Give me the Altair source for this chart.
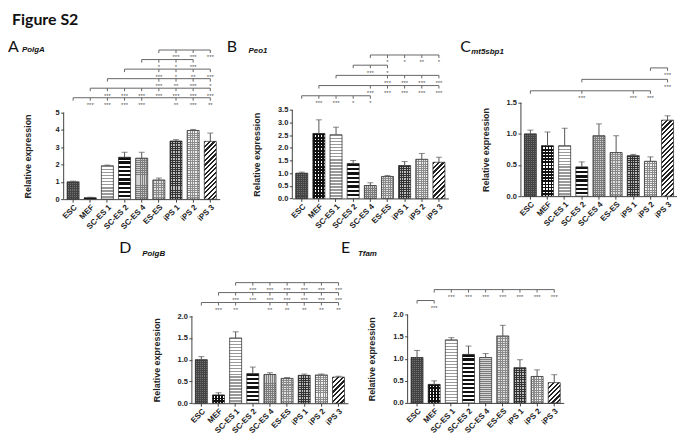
import math
import altair as alt
import pandas as pd

cats = ["ESC", "MEF", "SC-ES 1", "SC-ES 2", "SC-ES 4", "ES-ES", "iPS 1", "iPS 2", "iPS 3"]

polga_val = [1.00, 0.08, 1.93, 2.42, 2.37, 1.11, 3.36, 3.97, 3.34]
polga_err = [0.04, 0.03, 0.04, 0.29, 0.34, 0.11, 0.08, 0.06, 0.48]
peo1_val = [1.00, 2.57, 2.52, 1.38, 0.51, 0.87, 1.30, 1.55, 1.43]
peo1_err = [0.04, 0.54, 0.30, 0.12, 0.11, 0.04, 0.16, 0.23, 0.20]
mt5_val = [1.00, 0.81, 0.81, 0.47, 0.97, 0.70, 0.65, 0.56, 1.22]
mt5_err = [0.06, 0.22, 0.28, 0.08, 0.19, 0.27, 0.02, 0.07, 0.07]
polgb_val = [1.00, 0.19, 1.50, 0.68, 0.66, 0.57, 0.64, 0.65, 0.60]
polgb_err = [0.07, 0.05, 0.14, 0.15, 0.04, 0.02, 0.03, 0.02, 0.02]
tfam_val = [1.03, 0.42, 1.43, 1.10, 1.03, 1.52, 0.80, 0.60, 0.46]
tfam_err = [0.16, 0.08, 0.05, 0.19, 0.09, 0.24, 0.18, 0.15, 0.18]

# significance brackets: (level from bottom, start, end, [(target, stars), ...])
polga_br = [
    (6, "ES-ES", "iPS 3", [("iPS 1", "***"), ("iPS 2", "***"), ("iPS 3", "***")]),
    (5, "SC-ES 4", "iPS 2", [("ES-ES", "*"), ("iPS 1", "*"), ("iPS 2", "***")]),
    (4, "SC-ES 2", "iPS 3", [("ES-ES", "***"), ("iPS 1", "*"), ("iPS 2", "**"), ("iPS 3", "***")]),
    (3, "SC-ES 1", "iPS 3", [("ES-ES", "***"), ("iPS 1", "**"), ("iPS 2", "***"), ("iPS 3", "*")]),
    (2, "MEF", "iPS 3", [("SC-ES 1", "***"), ("SC-ES 2", "***"), ("SC-ES 4", "***"), ("ES-ES", "***"),
                         ("iPS 1", "***"), ("iPS 2", "***"), ("iPS 3", "***")]),
    (1, "ESC", "iPS 3", [("MEF", "***"), ("SC-ES 1", "***"), ("SC-ES 2", "***"), ("SC-ES 4", "***"),
                         ("iPS 1", "**"), ("iPS 2", "***"), ("iPS 3", "**")]),
]
peo1_br = [
    (5, "SC-ES 4", "iPS 3", [("ES-ES", "*"), ("iPS 1", "*"), ("iPS 2", "**"), ("iPS 3", "*")]),
    (4, "SC-ES 2", "ES-ES", [("SC-ES 4", "***"), ("ES-ES", "*")]),
    (3, "SC-ES 1", "iPS 3", [("ES-ES", "***"), ("iPS 1", "***"), ("iPS 2", "***"), ("iPS 3", "***")]),
    (2, "MEF", "iPS 3", [("SC-ES 4", "***"), ("ES-ES", "***"), ("iPS 1", "***"), ("iPS 2", "***"), ("iPS 3", "***")]),
    (1, "ESC", "SC-ES 4", [("MEF", "***"), ("SC-ES 1", "***"), ("SC-ES 2", "*"), ("SC-ES 4", "*")]),
]
mt5_br = [
    (3, "iPS 2", "iPS 3", [("iPS 3", "***")]),
    (2, "SC-ES 2", "iPS 3", [("iPS 3", "***")]),
    (1, "ESC", "iPS 2", [("SC-ES 2", "***"), ("iPS 1", "***"), ("iPS 2", "***")]),
]
polgb_br = [
    (3, "SC-ES 1", "iPS 3", [("SC-ES 2", "***"), ("SC-ES 4", "***"), ("ES-ES", "***"), ("iPS 1", "***"),
                             ("iPS 2", "***"), ("iPS 3", "***")]),
    (2, "MEF", "iPS 3", [("SC-ES 1", "***"), ("SC-ES 2", "***"), ("SC-ES 4", "***"), ("ES-ES", "***"),
                         ("iPS 1", "***"), ("iPS 2", "***"), ("iPS 3", "***")]),
    (1, "ESC", "iPS 3", [("MEF", "***"), ("SC-ES 1", "**"), ("SC-ES 4", "**"), ("ES-ES", "**"),
                         ("iPS 1", "**"), ("iPS 2", "**"), ("iPS 3", "**")]),
]
tfam_br = [
    (2, "MEF", "iPS 3", [("SC-ES 1", "***"), ("SC-ES 2", "***"), ("SC-ES 4", "***"), ("ES-ES", "***"),
                         ("iPS 1", "***"), ("iPS 2", "***"), ("iPS 3", "***")]),
    (1, "ESC", "MEF", [("MEF", "***")]),
]

# ---------------- styling ----------------
W = 157
PAD_IN, PAD_OUT = 0.3, 0.2
STEP = W / (len(cats) - PAD_IN + 2 * PAD_OUT)
BAND = STEP * (1 - PAD_IN)
AX = "Liberation Sans"

# fill pattern per group: kind, line colour, base colour, line fraction, period(px)
PAT = {
    "ESC": ("grid", "#444444", "#707070", 0.5, 2.0),
    "MEF": ("grid", "#111111", "#ffffff", 0.55, 3.2),
    "SC-ES 1": ("h", "#9a9a9a", "#ffffff", 0.5, 3.0),
    "SC-ES 2": ("h", "#111111", "#ffffff", 0.55, 4.2),
    "SC-ES 4": ("grid", "#7c7c7c", "#d2d2d2", 0.4, 2.0),
    "ES-ES": ("grid", "#8a8a8a", "#e0e0e0", 0.45, 1.8),
    "iPS 1": ("grid", "#333333", "#bdbdbd", 0.42, 2.3),
    "iPS 2": ("grid", "#8c8c8c", "#f0f0f0", 0.45, 2.2),
    "iPS 3": ("d", "#222222", "#ffffff", 0.45, 3.3),
}
CLEAR = "rgba(0,0,0,0)"


def stripes(n, c_line, c_base, frac):
    stops = []
    for i in range(n):
        a, b, c = i / n, (i + frac) / n, (i + 1) / n
        stops += [{"offset": round(a, 5), "color": c_line}, {"offset": round(b, 5), "color": c_line},
                  {"offset": round(b, 5), "color": c_base}, {"offset": round(c, 5), "color": c_base}]
    return stops


def hgrad(n, line, base, frac):
    return {"gradient": "linear", "x1": 0, "y1": 0, "x2": 0, "y2": 1,
            "stops": stripes(n, line, base, frac)}


def vgrad(n, line, base, frac):
    return {"gradient": "linear", "x1": 0, "y1": 0, "x2": 1, "y2": 0,
            "stops": stripes(n, line, base, frac)}


def dgrad(h, line, base, frac, p):
    r = BAND / max(h, 0.5)
    y2 = (1 + r) / (1 + r * r)
    x2 = r * y2
    n = max(1, round((BAND + h) / math.sqrt(2) / p))
    return {"gradient": "linear", "x1": 0, "y1": 0, "x2": round(x2, 5), "y2": round(y2, 5),
            "stops": stripes(n, line, base, frac)}


def panel(vals, errs, ymax, ticks, fmt, H, brs, sp, top_gap, hb, texts):
    Ht = hb + H
    ytop = ymax * Ht / H          # data value at the very top of the panel
    u = ymax / H                  # data units per pixel
    df = pd.DataFrame({"cat": cats, "val": vals, "err": errs})
    df["hi"] = df["val"] + df["err"]
    xs = alt.Scale(domain=cats, paddingInner=PAD_IN, paddingOuter=PAD_OUT)
    xax = alt.Axis(title=None, labelAngle=315, labelAlign="right", labelFontSize=8,
                   labelPadding=1, tickSize=3, labelColor="#222")
    X = alt.X("cat:N", scale=xs, sort=cats, axis=xax)
    yax = alt.Axis(values=ticks, format=fmt, title="Relative expression", titleX=-36, titleY=Ht - H / 2,
                   titleAngle=270, titleAlign="center", titleBaseline="middle", titleFontSize=9,
                   labelFontSize=7.5, tickSize=3, labelPadding=1.5, labelColor="#222", domain=False)
    ys = alt.Scale(domain=[0, ytop], nice=False, zero=True)
    Y = alt.Y("val:Q", scale=ys, axis=yax)
    base = alt.Chart(df)
    layers = []
    for c, v in zip(cats, vals):
        kind, line, bg, frac, p = PAT[c]
        h = v / ymax * H
        sub = base.transform_filter(alt.datum.cat == c)
        nh = max(1, round(h / p))
        if kind == "d":
            fill = dgrad(h, line, bg, frac, p)
        else:
            fill = hgrad(nh, line, bg, frac)
        layers.append(sub.mark_bar(fill=fill, strokeWidth=0).encode(x=X, y=Y))
        if kind == "grid":
            nv = max(1, round(BAND / p))
            layers.append(sub.mark_bar(fill=vgrad(nv, line, CLEAR, frac), strokeWidth=0).encode(x=X, y=Y))
    layers.append(base.mark_bar(fillOpacity=0, stroke="#222", strokeWidth=0.7).encode(x=X, y=Y))
    layers.append(base.mark_rule(color="#555", strokeWidth=1).encode(x=X, y=Y, y2="hi:Q"))
    layers.append(base.mark_tick(color="#555", thickness=1, size=6).encode(
        x=X, y=alt.Y("hi:Q", scale=ys, axis=yax)))
    # y axis line from 0 to ymax
    dom = pd.DataFrame({"d0": [0.0], "d1": [float(ymax)]})
    layers.append(alt.Chart(dom).mark_rule(color="#444", strokeWidth=1).encode(
        x=alt.value(0), y=alt.Y("d0:Q", scale=ys, axis=yax), y2="d1:Q"))

    # brackets
    N = max(b[0] for b in brs)

    def lvl_y(l):
        return (Ht - (top_gap + (N - l) * sp)) * u

    hl = pd.DataFrame([{"s": s, "e": e, "ly": lvl_y(l)} for l, s, e, t in brs])
    rows = []
    for l, s, e, t in brs:
        rows.append({"cat": s, "stars": "", "ly": lvl_y(l), "lo": lvl_y(l) - 3 * u})
        for c, st in t:
            rows.append({"cat": c, "stars": st, "ly": lvl_y(l), "lo": lvl_y(l) - 3 * u})
    tk = pd.DataFrame(rows)
    layers.append(alt.Chart(hl).mark_rule(color="#666", strokeWidth=1).encode(
        x=alt.X("s:N", scale=xs, sort=cats, axis=xax, bandPosition=0.5),
        x2=alt.X2("e:N", bandPosition=0.5),
        y=alt.Y("ly:Q", scale=ys, axis=yax)))
    layers.append(alt.Chart(tk).mark_rule(color="#666", strokeWidth=1).encode(
        x=X, y=alt.Y("ly:Q", scale=ys, axis=yax), y2="lo:Q"))
    layers.append(alt.Chart(tk).mark_text(fontSize=6, color="#555", baseline="middle", dy=7.5, font=AX).encode(
        x=X, y=alt.Y("ly:Q", scale=ys, axis=yax), text="stars:N"))
    for txt, dx, dy, size, font, weight, style in texts:
        layers.append(alt.Chart(pd.DataFrame({"t": [txt]})).mark_text(
            align="left", baseline="alphabetic", fontSize=size, font=font, fontWeight=weight,
            fontStyle=style, color="#111").encode(x=alt.value(dx), y=alt.value(dy), text="t:N"))
    return alt.layer(*layers).properties(width=W, height=Ht)


A = panel(polga_val, polga_err, 5, [0, 1, 2, 3, 4, 5], "d", 87, polga_br, 9.6, 4, 67, [
    ("Figure S2", -52, -21, 16, "Lato", "bold", "normal"),
    ("A", -56, 6, 16, "Lato", "normal", "normal"),
    ("PolgA", -42, 6, 8, AX, "bold", "italic")])
B = panel(peo1_val, peo1_err, 3.5, [0, 0.5, 1, 1.5, 2, 2.5, 3, 3.5], ".1f", 89, peo1_br, 10.25, 9, 64.3, [
    ("B", -66, 6, 16, "Lato", "normal", "normal"),
    ("Peo1", -44, 6.5, 8, AX, "bold", "italic")])
C = panel(mt5_val, mt5_err, 1.5, [0, 0.5, 1, 1.5], ".1f", 94, mt5_br, 11.5, 22, 57, [
    ("C", -61, 6, 16, "Lato", "normal", "normal"),
    ("mt5sbp1", -50, 8, 8, AX, "bold", "italic")])
D = panel(polgb_val, polgb_err, 2, [0, 0.5, 1, 1.5, 2], ".1f", 87.6, polgb_br, 10, 4, 37.7, [
    ("D", -73, -26, 16, "Lato", "normal", "normal"),
    ("PolgB", -50, -23, 8, AX, "bold", "italic")])
E = panel(tfam_val, tfam_err, 2, [0, 0.5, 1, 1.5, 2], ".1f", 88.7, tfam_br, 11, 11, 36.3, [
    ("E", -67, -26, 16, "Lato", "normal", "normal"),
    ("Tfam", -50, -23, 8, AX, "bold", "italic")])

spacer = alt.Chart(pd.DataFrame({"t": [""]})).mark_text().encode(text="t:N").properties(
    width=69, height=10, view=alt.ViewBackground(fill="white", stroke=None))

row1 = alt.hconcat(A, B, C, spacing=73, bounds="flush").resolve_scale(x="independent", y="independent")
row2 = alt.hconcat(spacer, D, E, spacing=60, bounds="flush").resolve_scale(x="independent", y="independent")

chart = alt.vconcat(row1, row2, spacing=9).resolve_scale(
    x="independent", y="independent").properties(
    padding={"top": 3, "left": 0, "right": 0, "bottom": 0}).configure_view(stroke=None).configure_axis(
    labelFont=AX, titleFont=AX, labelFontWeight="bold", titleFontWeight="bold",
    domainColor="#444", tickColor="#444", titleColor="#222", grid=False)

chart.save("out.html", embed_options={"renderer": "svg", "actions": False})
